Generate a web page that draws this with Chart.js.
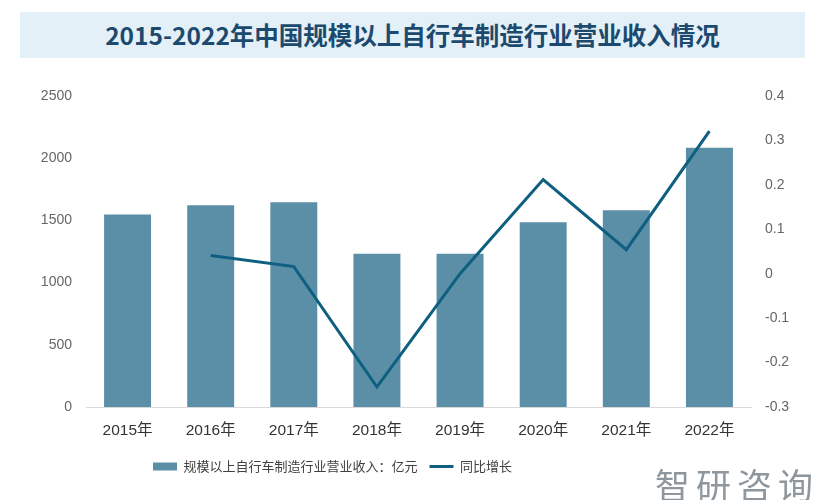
<!DOCTYPE html>
<html>
<head>
<meta charset="utf-8">
<script src="https://cdn.jsdelivr.net/npm/chart.js@4"></script>
<style>
  body { margin: 0; background: #fff; }
  #wrap { position: relative; width: 826px; height: 500px; overflow: hidden; }
  #title {
    position: absolute; left: 20px; top: 12px; width: 785px; height: 46px;
    background: #e4f0f8; color: #1c4a6e; font: bold 24.5px "Noto Sans CJK SC", sans-serif;
    line-height: 46px; text-align: center;
  }
  #logo {
    position: absolute; left: 655px; top: 458px; color: #8f979e;
    font: 35px "Noto Sans CJK SC", sans-serif; letter-spacing: 6px;
  }
  canvas { position: absolute; left: 0; top: 0; }
</style>
</head>
<body>
<div id="wrap">
  <canvas id="bikeChart" width="826" height="500"></canvas>
  <div id="title">2015-2022年中国规模以上自行车制造行业营业收入情况</div>
  <div id="logo">智研咨询</div>
</div>
<script>
const years = ["2015年", "2016年", "2017年", "2018年", "2019年", "2020年", "2021年", "2022年"];
const revenue = [1548, 1621, 1645, 1231, 1231, 1486, 1581, 2083];
const growth = [null, 0.041, 0.016, -0.255, 0.0, 0.212, 0.054, 0.321];

const barColor = "#5b8fa8";
const lineColor = "#0f5f80";

// legend sits left of centre in the reference, items centred on y=466
const legendShift = {
  id: "legendShift",
  afterLayout(chart) {
    const lg = chart.legend;
    const h = lg.bottom - lg.top;
    lg.left = 141;
    lg.top = 448;
    lg.bottom = 448 + h;
  },
};

const config = {
  data: {
    labels: years,
    datasets: [
      {
        type: "line",
        label: "同比增长",
        data: growth,
        yAxisID: "y1",
        borderColor: lineColor,
        backgroundColor: lineColor,
        borderWidth: 3,
        pointRadius: 0,
        pointStyle: "line",
        tension: 0,
        order: 0,
      },
      {
        type: "bar",
        label: "规模以上自行车制造行业营业收入：亿元",
        data: revenue,
        yAxisID: "y",
        backgroundColor: barColor,
        pointStyle: "rect",
        barPercentage: 0.565,
        categoryPercentage: 1,
        order: 1,
      },
    ],
  },
  options: {
    responsive: false,
    animation: false,
    layout: { padding: { top: 96, left: 0, right: 0, bottom: 18 } },
    plugins: {
      legend: {
        position: "bottom",
        align: "start",
        reverse: true,
        labels: {
          usePointStyle: true,
          pointStyleWidth: 24,
          boxHeight: 8,
          padding: 12,
          color: "#404040",
          font: { size: 13, family: "Noto Sans CJK SC" },
        },
      },
      tooltip: { enabled: false },
    },
    scales: {
      x: {
        grid: { display: false },
        border: { color: "#d9d9d9" },
        ticks: { color: "#333", font: { size: 15.5, family: "Liberation Sans, Noto Sans CJK SC" }, padding: 6 },
        afterFit: (s) => { s.height = 40; },
      },
      y: {
        position: "left",
        min: 0,
        max: 2500,
        ticks: { stepSize: 500, color: "#666", font: { size: 14, family: "Liberation Sans" }, padding: 6,
          callback: (v) => String(v) },
        grid: { display: false },
        border: { display: false },
        afterFit: (s) => { s.width = 86; },
      },
      y1: {
        position: "right",
        min: -0.3,
        max: 0.4,
        ticks: { stepSize: 0.1, color: "#666", font: { size: 14, family: "Liberation Sans" }, padding: 6,
          callback: (v) => String(Math.round(v * 10) / 10) },
        grid: { display: false },
        border: { display: false },
        afterFit: (s) => { s.width = 75; },
      },
    },
  },
  plugins: [legendShift],
};

new Chart(document.getElementById("bikeChart"), config);
</script>
</body>
</html>
